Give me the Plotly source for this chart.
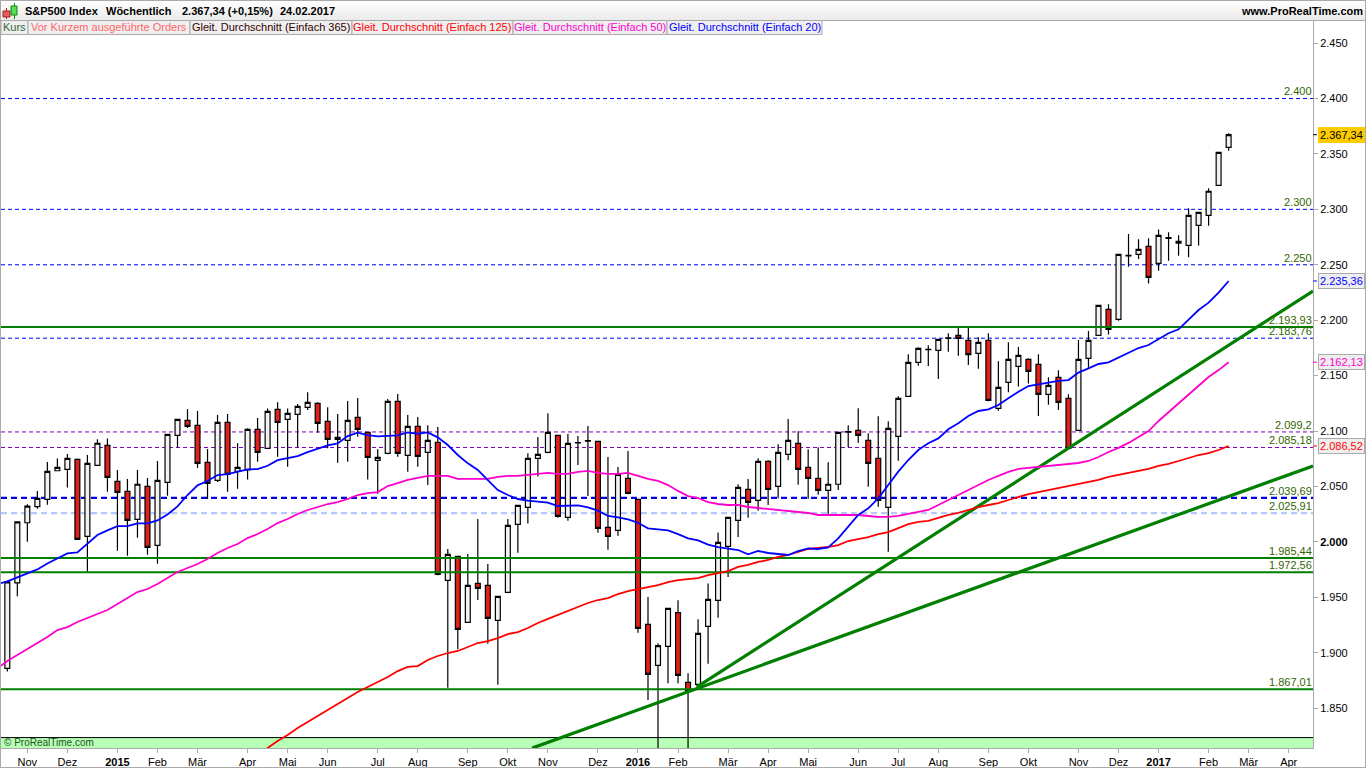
import pandas as pd
import plotly.graph_objects as go

# weekly S&P500 candles, week ending 24.10.2014 to 24.02.2017
OPEN = [
    1886, 1963, 2017.3, 2031.8, 2038.4, 2064.2, 2065.4, 2074.4, 2005, 2069,
    2087, 2054.6, 2045.6, 2020.3, 2050.1, 1996.9, 2053.7, 2096.1, 2109.7, 2105.2,
    2071.7, 2055.5, 2107.9, 2063.7, 2064.9, 2101.6, 2084.4, 2119.6, 2110.6, 2115,
    2121.4, 2125, 2108.7, 2092.5, 2091.6, 2112.4, 2098.8, 2073.6, 2079.9, 2126.8,
    2078.1, 2104.2, 2080.8, 2089.8, 1965.3, 1987, 1927.4, 1962.6, 1960.8, 1929.3,
    1954.5, 2015.9, 2031.2, 2075.4, 2080.8, 2096.1, 2022.2, 2089.3, 2091, 2090.7,
    2013.1, 2010.4, 2057.4, 2038.4, 1925.6, 1888.7, 1905.8, 1936.2, 1873.3, 1871.5,
    1923.8, 1947.3, 1996, 2019.5, 2047.4, 2037.5, 2072.7, 2050.1, 2079, 2088.9,
    2067.3, 2057.3, 2046.5, 2052, 2099.1, 2100.7, 2091.6, 2075.4, 2031.2, 2095.2,
    2131.3, 2162, 2173.4, 2172.8, 2183.5, 2186.4, 2181.8, 2170.1, 2181.8, 2120.5,
    2143.9, 2158.4, 2164.7, 2160.2, 2133.1, 2148.5, 2129.5, 2100.6, 2165.6, 2186.4,
    2209.8, 2200.8, 2257.9, 2259.4, 2266.6, 2251.3, 2273.9, 2269.4, 2267.5, 2285.6,
    2294.6, 2321.7, 2355.9,
]
HIGH = [
    1965, 2018, 2034, 2045.9, 2072, 2075.3, 2079.2, 2075.3, 2078.4, 2092.5,
    2093.4, 2064.9, 2056.7, 2064.9, 2057.6, 2073, 2097, 2110.6, 2119.9, 2118,
    2083.8, 2114.5, 2115.4, 2088.9, 2102.5, 2111.8, 2120.4, 2125.9, 2120.4, 2124.4,
    2134.9, 2125.9, 2121.4, 2115.4, 2127.1, 2129.8, 2099, 2083.5, 2128.9, 2133.4,
    2114.5, 2112.6, 2105.2, 2103.6, 1993.6, 1987, 1989.1, 2020.7, 1980.1, 1951,
    2020.7, 2033, 2079.9, 2094.6, 2116, 2096.1, 2097.3, 2095.5, 2104.6, 2090.7,
    2076.6, 2067.5, 2082, 2038.5, 1950.3, 1908.5, 1940.1, 1947.3, 1881.5, 1930.2,
    1962.6, 2008.6, 2022.3, 2052, 2056.8, 2075.4, 2073.6, 2088, 2110.9, 2099.8,
    2083.5, 2085.3, 2071.8, 2098.8, 2105.2, 2120.5, 2098, 2113.3, 2108.8, 2131.3,
    2169.2, 2175.5, 2177.3, 2183, 2188.2, 2193.3, 2193.3, 2184.6, 2188.2, 2162.9,
    2180, 2175.8, 2165.6, 2169.2, 2148.5, 2154.8, 2133.1, 2182.1, 2190.3, 2213.4,
    2214.3, 2259.5, 2277.8, 2273, 2273.9, 2281.9, 2279.3, 2276.6, 2300.9, 2297.3,
    2319, 2351.6, 2368.6,
]
LOW = [
    1883, 1951, 2000.2, 2030, 2033.5, 2064, 2049, 2002, 1973.1, 2069,
    2045.3, 1992.1, 1987.6, 2003.8, 1988.4, 1980.3, 2041.7, 2085.3, 2102.7, 2066.7,
    2038.7, 2054, 2045.3, 2048, 2056.2, 2072.4, 2084, 2076.8, 2067.8, 2085.3,
    2119, 2098.5, 2084.4, 2071.4, 2072.4, 2094.9, 2056.2, 2043.5, 2079, 2076.8,
    2063.3, 2067.8, 2051.3, 1970, 1868.5, 1903.1, 1927, 1947.6, 1908.2, 1871.2,
    1954, 1990.3, 2016.5, 2058.9, 2080, 2021.9, 2019.2, 2069.4, 2041.4, 2008.3,
    1993, 2005.6, 2043, 1918.1, 1857.4, 1812, 1872.4, 1872.4, 1810, 1871,
    1890.2, 1931.7, 1968.3, 2004.5, 2021.9, 2028.2, 2033.3, 2039.3, 2073.6, 2051.6,
    2039, 2042.6, 2024.9, 2046.8, 2085.3, 2089.5, 2049.8, 2031.8, 1991.2, 2073.3,
    2131, 2159, 2158.7, 2147, 2171.6, 2168, 2159.6, 2156.3, 2127, 2118.4,
    2134.9, 2140.3, 2143, 2113.6, 2123.8, 2119, 2084, 2100, 2157.2, 2186,
    2187, 2199.6, 2248.3, 2255.2, 2233, 2244.7, 2253.7, 2258.2, 2256.7, 2267.3,
    2285.3, 2321, 2352.9,
]
CLOSE = [
    1964, 2018, 2032.3, 2039.3, 2063.6, 2067.2, 2075.3, 2002.3, 2070.9, 2089,
    2058.2, 2044.7, 2019.4, 2052, 1995.1, 2055.5, 2097, 2110.6, 2104.2, 2070.9,
    2052.8, 2107.9, 2061, 2067.3, 2101.6, 2080.8, 2117.8, 2107.8, 2116, 2122.3,
    2125.9, 2106.9, 2092.5, 2094.3, 2109.7, 2101.6, 2076.3, 2076.3, 2126.8, 2079.9,
    2104.2, 2077.2, 2091.6, 1970.7, 1988.8, 1921.1, 1960.8, 1958.1, 1931, 1950.9,
    2014.9, 2033, 2075.4, 2079, 2098.8, 2023.1, 2088.9, 2089.6, 2091.3, 2012.2,
    2005, 2060.9, 2043.8, 1922, 1880.5, 1906.4, 1940.1, 1879.6, 1864.9, 1917.5,
    1948.2, 1999.6, 2022.2, 2049.2, 2035.7, 2072.7, 2047.4, 2080.8, 2091.6, 2065.5,
    2057.3, 2046.5, 2052, 2098.8, 2099.4, 2096.1, 2070.9, 2037.5, 2102.5, 2129.5,
    2162, 2174.6, 2173.7, 2182.7, 2184, 2183.6, 2168.9, 2180, 2127.7, 2139.4,
    2164.7, 2168.3, 2153.9, 2133.1, 2141.2, 2125.9, 2084.4, 2164.7, 2181.8, 2213.4,
    2191.8, 2259.4, 2258.5, 2263.9, 2238.7, 2276.6, 2274.4, 2271.1, 2294.6, 2297.3,
    2316.3, 2351.4, 2367.34,
]

# moving averages, one value per week, all ending on the last candle
SMA_20 = [
    1962, 1964.4, 1968, 1971.6, 1975.2, 1980.6, 1985.1, 1989.6, 1990.5, 1998.7, 2006.2,
    2010.4, 2014.3, 2014.3, 2016.7, 2016.7, 2019.4, 2024.8, 2032, 2042.3, 2051,
    2054.9, 2060.3, 2061.2, 2063, 2065.4, 2065.7, 2068.7, 2073.8, 2075.6, 2077.4,
    2081, 2084, 2087, 2088.9, 2095.5, 2098.5, 2096.4, 2095.2, 2095.8, 2096.1,
    2098.8, 2097.6, 2098.8, 2094.3, 2087.4, 2078.4, 2070.9, 2064.9, 2055.8, 2046.8,
    2042.3, 2038.7, 2037.2, 2036.6, 2035.4, 2032.4, 2032.4, 2033, 2031.2, 2028.2,
    2023.4, 2022.2, 2020.3, 2017.3, 2012.2, 2011.3, 2010.4, 2007.1, 2003.2, 2001.4,
    1997.5, 1995.4, 1994.2, 1992.7, 1988.8, 1991.8, 1990, 1988.8, 1988.2, 1991.8,
    1994.2, 1993.6, 1995.1, 2003.2, 2014, 2024.3, 2030.3, 2039.3, 2051.3, 2063.4,
    2073.9, 2082.9, 2089, 2093.4, 2101.6, 2107, 2113.6, 2118.1, 2119.6, 2123.5,
    2129.5, 2135.5, 2140.6, 2142.1, 2143.9, 2145.2, 2146, 2152.7, 2156.6, 2160.5,
    2162, 2166.2, 2170.1, 2174.9, 2177.6, 2182.7, 2188.2, 2191.8, 2200.8, 2209.2,
    2215.8, 2224.9, 2235.36,
]
SMA_50 = [
    1886, 1892.6, 1898, 1903.4, 1908.8, 1914.2, 1920.5, 1923.2, 1927.8, 1931.4, 1935,
    1938.6, 1944, 1949.4, 1954.8, 1957.5, 1962, 1967.4, 1972.9, 1976.5, 1980.1,
    1984.6, 1990, 1994.5, 1998.1, 2003.5, 2007.1, 2011.6, 2017, 2020.7, 2025.2,
    2028.8, 2031.5, 2034.2, 2036, 2038.7, 2042.3, 2044.1, 2045, 2050.4, 2053.1,
    2055.9, 2057.7, 2059.5, 2059.5, 2059.5, 2056.8, 2056.8, 2056.8, 2056.8, 2058.6,
    2059.5, 2059.5, 2060.4, 2061.3, 2062.2, 2061.3, 2061.3, 2063.1, 2064, 2062.2,
    2061.3, 2061.3, 2062.2, 2059.5, 2056.8, 2055, 2051.3, 2046, 2041.4, 2039.6,
    2036, 2034.2, 2033.3, 2033.3, 2031.5, 2030.6, 2029.7, 2028.8, 2027.9, 2027,
    2026.1, 2024.3, 2024.3, 2024.3, 2024.3, 2024.3, 2023.4, 2022.5, 2022.5, 2023.4,
    2025.2, 2027, 2028.8, 2033.3, 2037.8, 2042.3, 2046.9, 2051.3, 2055.9, 2059.5,
    2063.1, 2065.8, 2066.7, 2067.6, 2068.5, 2069.4, 2070.3, 2071.2, 2073, 2076.6,
    2081.1, 2084.8, 2089.3, 2094.7, 2100, 2109.1, 2117.2, 2125.3, 2133.4, 2141.5,
    2148.8, 2155, 2162.13,
]
SMA_125 = [
    1807.8, 1814.1, 1820.4, 1825.8, 1832.1, 1837.5, 1842.9, 1848.4, 1853.8, 1859.2,
    1864.6, 1869.1, 1873.6, 1878.1, 1883.5, 1887.2, 1888, 1893.5, 1897.1, 1899.8,
    1901.6, 1905.2, 1908.8, 1910.6, 1913.3, 1916.9, 1918.7, 1922.3, 1926.9, 1930.5,
    1934, 1937.7, 1941.3, 1944.9, 1947.6, 1949.4, 1953, 1955.7, 1957.5, 1959.3,
    1961.1, 1963.8, 1965.6, 1966.5, 1967.4, 1970.1, 1971.9, 1973.7, 1977.4, 1979.2,
    1981.9, 1983.7, 1986.4, 1988.2, 1990.9, 1993.6, 1994.5, 1995.4, 1997.2, 2000.8,
    2002.6, 2004.4, 2007.1, 2008.9, 2012.5, 2016.1, 2018, 2018.9, 2021.6, 2024.3,
    2026.1, 2028.8, 2031.5, 2033.3, 2035.1, 2037.8, 2040.5, 2043.2, 2045, 2046.9,
    2048.6, 2050.4, 2052.2, 2054, 2055.9, 2058.6, 2060.4, 2062.2, 2064, 2065.8,
    2068.5, 2070.3, 2073, 2075.7, 2078.4, 2080.2, 2082.9, 2086.52,
]

# horizontal levels and their labels
LEVELS_THIN_BLUE = [2400, 2300, 2250, 2183.76]
LEVELS_PURPLE = [2099.2, 2085.18]
LEVEL_BOLD_BLUE = 2039.69
LEVEL_LIGHT_BLUE = 2025.91
LEVELS_GREEN = [2193.93, 1985.44, 1972.56, 1867.01]
LEVEL_ZONE_TOP = 1823.5
LEVEL_TEXTS = [
    (2400, "2.400"), (2300, "2.300"), (2250, "2.250"), (2193.93, "2.193,93"),
    (2183.76, "2.183,76"), (2099.2, "2.099,2"), (2085.18, "2.085,18"),
    (2039.69, "2.039,69"), (2025.91, "2.025,91"), (1985.44, "1.985,44"),
    (1972.56, "1.972,56"), (1867.01, "1.867,01"),
]

# two trend lines drawn on the chart
TREND_STEEP_X = ["2016-02-18", "2017-04-24"]
TREND_STEEP_Y = [1869, 2226.3]
TREND_FLAT_X = ["2015-10-26", "2017-04-24"]
TREND_FLAT_Y = [1814, 2068.5]

# value badges on the price axis
BADGES = [
    (2367.34, "2.367,34", "#000000", "#FFCC00", "#FFCC00"),
    (2235.36, "2.235,36", "#0000FF", "#EEEEEE", "#AAAAAA"),
    (2162.13, "2.162,13", "#FF00CC", "#EEEEEE", "#AAAAAA"),
    (2086.52, "2.086,52", "#FF0000", "#EEEEEE", "#AAAAAA"),
]

Y_TICKS = list(range(1850, 2451, 50))
Y_LABELS = ["1.850", "1.900", "1.950", "<b>2.000</b>", "2.050", "2.100", "2.150",
            "2.200", "2.250", "2.300", "2.350", "2.400", "2.450"]

X_TICKS = [
    "2014-11-07", "2014-12-05", "2015-01-09", "2015-02-06", "2015-03-06", "2015-04-10",
    "2015-05-08", "2015-06-05", "2015-07-10", "2015-08-07", "2015-09-11", "2015-10-09",
    "2015-11-06", "2015-12-11", "2016-01-08", "2016-02-05", "2016-03-11", "2016-04-08",
    "2016-05-06", "2016-06-10", "2016-07-08", "2016-08-05", "2016-09-09", "2016-10-07",
    "2016-11-11", "2016-12-09", "2017-01-06", "2017-02-10", "2017-03-10", "2017-04-07",
]
X_LABELS = [
    "Nov", "Dez", "<b>2015</b>", "Feb", "Mär", "Apr", "Mai", "Jun", "Jul", "Aug", "Sep", "Okt",
    "Nov", "Dez", "<b>2016</b>", "Feb", "Mär", "Apr", "Mai", "Jun", "Jul", "Aug", "Sep", "Okt",
    "Nov", "Dez", "<b>2017</b>", "Feb", "Mär", "Apr",
]

# legend tabs under the title bar: left edge, right edge, text, colour
TABS = [
    (1, 28, "Kurs", "#336633"),
    (28, 190, "Vor Kurzem ausgeführte Orders", "#FF6666"),
    (190, 352, "Gleit. Durchschnitt (Einfach 365)", "#330000"),
    (352, 513, "Gleit. Durchschnitt (Einfach 125)", "#FF0000"),
    (513, 667, "Gleit. Durchschnitt (Einfach 50)", "#FF00CC"),
    (667, 822, "Gleit. Durchschnitt (Einfach 20)", "#0000FF"),
]
TITLE_PARTS = [
    (24, "S&P500 Index"), (105, "Wöchentlich"),
    (181, "2.367,34 (+0,15%)"), (279, "24.02.2017"),
]

WIDTH, HEIGHT = 1366, 768
PLOT_LEFT, PLOT_RIGHT, PLOT_TOP, PLOT_BOTTOM = 1, 1313, 20, 748
X_RANGE = ["2014-10-19 14:00", "2017-04-24"]
Y_RANGE = [1814.1, 2470.8]
FONT = "Liberation Sans"
GREEN = "#007F00"
GREY = "#AAAAAA"
LABEL_GREEN = "#336600"

WEEKS = pd.date_range("2014-10-17", periods=len(SMA_20), freq="7D")


# pixel position on the page to paper coordinates, only used for the window furniture
def px(x):
    return (x - PLOT_LEFT) / (PLOT_RIGHT - PLOT_LEFT)


def py(y):
    return (PLOT_BOTTOM - y) / (PLOT_BOTTOM - PLOT_TOP)


def add_box(fig, x0, y0, x1, y1, fill, line=None):
    fig.add_shape(
        type="rect", xref="paper", yref="paper",
        x0=px(x0), x1=px(x1), y0=py(y0), y1=py(y1),
        fillcolor=fill, line=dict(color=line or fill, width=1 if line else 0),
        layer="above",
    )


fig = go.Figure()

fig.add_trace(
    go.Candlestick(
        x=WEEKS[1:], open=OPEN, high=HIGH, low=LOW, close=CLOSE,
        increasing=dict(line=dict(color="#000000", width=1.2), fillcolor="#F2F2F2"),
        decreasing=dict(line=dict(color="#000000", width=1.2), fillcolor="#E0201C"),
        whiskerwidth=0,
    )
)

for level in LEVELS_GREEN:
    fig.add_trace(go.Scatter(x=X_RANGE, y=[level, level], mode="lines",
                             line=dict(color=GREEN, width=2)))

fig.add_trace(go.Scatter(x=TREND_STEEP_X, y=TREND_STEEP_Y, mode="lines",
                         line=dict(color=GREEN, width=3.2)))
fig.add_trace(go.Scatter(x=TREND_FLAT_X, y=TREND_FLAT_Y, mode="lines",
                         line=dict(color=GREEN, width=3.2)))

fig.add_trace(go.Scatter(x=WEEKS[-len(SMA_125):], y=SMA_125, mode="lines",
                         line=dict(color="#FF0000", width=1.8)))
fig.add_trace(go.Scatter(x=WEEKS[-len(SMA_50):], y=SMA_50, mode="lines",
                         line=dict(color="#FF00CC", width=1.8)))
fig.add_trace(go.Scatter(x=WEEKS[-len(SMA_20):], y=SMA_20, mode="lines",
                         line=dict(color="#0000FF", width=1.8)))

# dashed levels sit behind the candles
for level in LEVELS_THIN_BLUE:
    fig.add_hline(y=level, layer="below", line=dict(color="#0000FF", width=1, dash="4px,3px"))
for level in LEVELS_PURPLE:
    fig.add_hline(y=level, layer="below", line=dict(color="#8000C0", width=1, dash="4px,3px"))
fig.add_hline(y=LEVEL_BOLD_BLUE, layer="below", line=dict(color="#0000E0", width=2.2, dash="6px,4px"))
fig.add_hline(y=LEVEL_LIGHT_BLUE, layer="below", line=dict(color="#B4C8FF", width=2.2, dash="6px,4px"))

# green zone at the bottom
fig.add_hrect(y0=Y_RANGE[0], y1=LEVEL_ZONE_TOP, layer="below", fillcolor="#B8FFB8", line_width=0)
fig.add_hline(y=LEVEL_ZONE_TOP, layer="below", line=dict(color="#000000", width=1))

for level, text in LEVEL_TEXTS:
    fig.add_annotation(
        xref="paper", x=1, y=level, xanchor="right", yanchor="bottom", xshift=0,
        text=text, showarrow=False, borderpad=0,
        font=dict(family=FONT, size=11, color=LABEL_GREEN),
    )

for level, text, color, fill, border in BADGES:
    fig.add_shape(type="line", xref="paper", yref="y", x0=1, x1=1 + 4 / (PLOT_RIGHT - PLOT_LEFT),
                  y0=level, y1=level, line=dict(color=color, width=1))
    fig.add_annotation(
        xref="paper", x=1, y=level, xanchor="left", yanchor="middle", xshift=5,
        text=text, showarrow=False, bgcolor=fill, bordercolor=border, borderwidth=1, borderpad=1,
        font=dict(family=FONT, size=11, color=color),
    )

# window furniture: title bar with a soft gradient, frame and legend tabs
for row in range(1, 20):
    shade = 255 - int(row * 1.1)
    add_box(fig, 0, row, WIDTH, row + 1, f"rgb({shade},{shade},{shade})")
add_box(fig, 0, 0, WIDTH, 1, GREY)
add_box(fig, 0, 20, WIDTH, 21, GREY)
add_box(fig, 0, 0, 1, HEIGHT, GREY)
add_box(fig, WIDTH - 1, 0, WIDTH, HEIGHT, GREY)
add_box(fig, 0, HEIGHT - 1, WIDTH, HEIGHT, GREY)

# small candle icon in the title bar
add_box(fig, 6, 8, 7, 19, "#AA2222")
add_box(fig, 3, 11, 10, 17, "#E06060", "#AA2222")
add_box(fig, 14, 3, 15, 19, "#118811")
add_box(fig, 11, 6, 17, 15, "#55DD55", "#118811")

for left, right, text, color in TABS:
    add_box(fig, left, 20.5, right, 34.5, "#EFEFEF", GREY)
    fig.add_annotation(
        xref="paper", yref="paper", x=px((left + right) / 2), y=py(27.5), xanchor="center", yanchor="middle",
        text=text, showarrow=False, borderpad=0, font=dict(family=FONT, size=11, color=color),
    )

for left, text in TITLE_PARTS:
    fig.add_annotation(
        xref="paper", yref="paper", x=px(left), y=py(11), xanchor="left", yanchor="middle",
        text=f"<b>{text}</b>", showarrow=False, borderpad=0,
        font=dict(family=FONT, size=11, color="#000000"),
    )
fig.add_annotation(
    xref="paper", yref="paper", x=px(1364), y=py(11), xanchor="right", yanchor="middle",
    text="<b>www.ProRealTime.com</b>", showarrow=False, borderpad=0,
    font=dict(family=FONT, size=11, color="#000000"),
)
fig.add_annotation(
    xref="paper", yref="paper", x=px(3), y=py(742.5), xanchor="left", yanchor="middle",
    text="© ProRealTime.com", showarrow=False, borderpad=0,
    font=dict(family=FONT, size=10, color="#225522"),
)

fig.update_layout(
    width=WIDTH,
    height=HEIGHT,
    margin=dict(l=PLOT_LEFT, r=WIDTH - PLOT_RIGHT, t=PLOT_TOP, b=HEIGHT - PLOT_BOTTOM, pad=0),
    plot_bgcolor="#FFFFFF",
    paper_bgcolor="#FFFFFF",
    font=dict(family=FONT, size=11, color="#000000"),
    showlegend=False,
    hovermode=False,
    xaxis=dict(
        type="date", range=X_RANGE, rangeslider=dict(visible=False),
        tickvals=X_TICKS, ticktext=X_LABELS, ticks="outside", ticklen=4, tickcolor=GREY,
        showgrid=False, zeroline=False, showline=True, linecolor=GREY, linewidth=1,
        tickangle=0, automargin=False,
    ),
    yaxis=dict(
        range=Y_RANGE, side="right", tickvals=Y_TICKS, ticktext=Y_LABELS,
        ticks="outside", ticklen=4, tickcolor=GREY,
        showgrid=False, zeroline=False, showline=True, linecolor=GREY, linewidth=1,
        automargin=False,
    ),
)

fig.write_html(
    "out.html",
    config=dict(displayModeBar=False),
    post_script="document.body.style.margin='0';document.documentElement.style.overflow='hidden';",
)
